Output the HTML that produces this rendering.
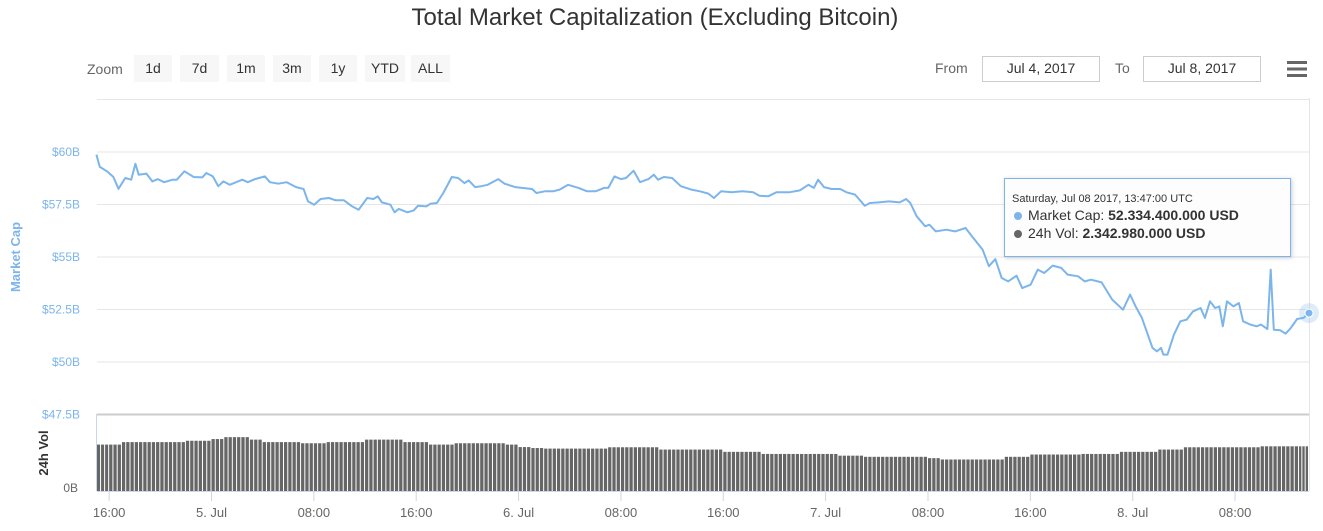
<!DOCTYPE html>
<html><head><meta charset="utf-8">
<style>
body{margin:0;background:#fff;font-family:"Liberation Sans",sans-serif;}
svg{display:block}
</style></head>
<body>
<svg id="chart" width="1323" height="531" xmlns="http://www.w3.org/2000/svg" font-family="Liberation Sans, sans-serif">
<text x="655" y="25" text-anchor="middle" font-size="24" fill="#333">Total Market Capitalization (Excluding Bitcoin)</text>
<g>
<text x="87" y="74" font-size="14" fill="#666">Zoom</text>
<g><rect x="134" y="55" width="38" height="27" fill="#f7f7f7"/><text x="153" y="73" font-size="14" fill="#333" text-anchor="middle">1d</text></g>
<g><rect x="180" y="55" width="39" height="27" fill="#f7f7f7"/><text x="199.5" y="73" font-size="14" fill="#333" text-anchor="middle">7d</text></g>
<g><rect x="227" y="55" width="38" height="27" fill="#f7f7f7"/><text x="246" y="73" font-size="14" fill="#333" text-anchor="middle">1m</text></g>
<g><rect x="273" y="55" width="38" height="27" fill="#f7f7f7"/><text x="292" y="73" font-size="14" fill="#333" text-anchor="middle">3m</text></g>
<g><rect x="319" y="55" width="38" height="27" fill="#f7f7f7"/><text x="338" y="73" font-size="14" fill="#333" text-anchor="middle">1y</text></g>
<g><rect x="365" y="55" width="40" height="27" fill="#f7f7f7"/><text x="385" y="73" font-size="14" fill="#333" text-anchor="middle">YTD</text></g>
<g><rect x="411" y="55" width="39" height="27" fill="#f7f7f7"/><text x="430.5" y="73" font-size="14" fill="#333" text-anchor="middle">ALL</text></g>
</g>
<text x="935" y="73" font-size="14" fill="#666">From</text>
<g><rect x="982.5" y="56.5" width="117" height="25" fill="#fff" stroke="#ccc"/><text x="1041" y="73" font-size="14" fill="#333" text-anchor="middle">Jul 4, 2017</text></g>
<text x="1115" y="73" font-size="14" fill="#666">To</text>
<g><rect x="1143.5" y="56.5" width="117" height="25" fill="#fff" stroke="#ccc"/><text x="1202" y="73" font-size="14" fill="#333" text-anchor="middle">Jul 8, 2017</text></g>
<g><rect x="1287" y="61" width="20" height="3" fill="#666"/><rect x="1287" y="67.5" width="20" height="3" fill="#666"/><rect x="1287" y="74" width="20" height="3" fill="#666"/></g>

<g id="grid"></g>
<text transform="translate(20,257) rotate(-90)" text-anchor="middle" font-size="13" font-weight="bold" fill="#7cb5ec">Market Cap</text>
<text transform="translate(48,453) rotate(-90)" text-anchor="middle" font-size="13" font-weight="bold" fill="#333">24h Vol</text>
<text x="78" y="492" text-anchor="end" font-size="12" fill="#666">0B</text>
<g id="vol"></g>
<g id="xaxis"></g>
<g id="line"></g>

<g>
<rect x="1004.5" y="178.5" width="286" height="78" fill="#fff" fill-opacity="0.95" stroke="#7cb5ec" style="filter:drop-shadow(1px 1px 2px rgba(0,0,0,0.2))"/>
<text x="1012" y="202" font-size="11" fill="#333">Saturday, Jul 08 2017, 13:47:00 UTC</text>
<circle cx="1018" cy="216" r="4" fill="#7cb5ec"/>
<text x="1028" y="220" font-size="14" fill="#333">Market Cap: <tspan font-weight="bold">52.334.400.000 USD</tspan></text>
<circle cx="1018" cy="234" r="4" fill="#666"/>
<text x="1028" y="238" font-size="14" fill="#333">24h Vol: <tspan font-weight="bold">2.342.980.000 USD</tspan></text>
</g>
</svg>
<script>
const hours=[15.0,15.27,15.83,16.33,16.73,17.26,17.72,18.05,18.31,18.91,19.37,19.8,20.3,20.96,21.29,21.88,22.61,23.27,23.6,24.1,24.53,24.93,25.42,26.41,26.84,27.4,28.17,28.56,29.22,29.88,30.61,31.2,31.54,32.03,32.53,33.19,33.69,34.35,35.0,35.5,36.17,36.66,37.0,37.32,37.98,38.31,38.64,39.31,39.8,40.13,40.79,41.12,41.62,42.12,42.78,43.27,43.77,44.1,44.6,45.09,45.59,46.41,46.91,47.74,49.06,49.39,50.05,50.71,51.21,51.87,52.69,53.36,54.02,54.68,55.01,55.5,56.0,56.4,56.99,57.49,58.15,58.58,58.9,59.35,60.0,60.68,61.5,62.17,62.84,63.27,63.83,64.66,65.5,66.33,66.82,67.5,68.15,69.15,69.98,70.65,71.08,71.41,71.87,72.47,73.14,73.63,74.3,75.06,75.46,76.13,76.96,77.79,78.29,78.62,79.12,79.78,80.11,80.61,81.44,82.11,82.94,83.44,84.27,84.76,85.26,85.76,86.26,86.92,87.36,88.02,88.58,89.08,89.75,90.41,90.91,91.74,92.24,92.74,93.57,94.4,95.24,95.8,96.23,96.72,97.55,97.89,98.22,98.39,98.72,99.22,99.72,100.22,100.71,101.31,101.64,102.04,102.44,102.77,103.04,103.37,103.87,104.3,104.63,105.2,105.69,106.03,106.53,106.79,107.03,107.53,107.96,108.36,108.85,109.35,109.78];
const marketCap=[59.87,59.29,59.08,58.81,58.25,58.76,58.68,59.44,58.92,58.97,58.60,58.71,58.56,58.68,58.68,59.08,58.81,58.79,59.0,58.84,58.37,58.60,58.44,58.68,58.56,58.71,58.84,58.56,58.49,58.56,58.33,58.24,57.65,57.49,57.76,57.81,57.70,57.70,57.41,57.25,57.81,57.76,57.89,57.60,57.49,57.13,57.29,57.13,57.22,57.44,57.41,57.54,57.57,58.05,58.81,58.76,58.52,58.65,58.33,58.37,58.44,58.71,58.49,58.33,58.24,58.05,58.13,58.13,58.21,58.44,58.29,58.13,58.13,58.29,58.29,58.84,58.71,58.76,59.11,58.56,58.71,58.92,58.68,58.81,58.76,58.37,58.21,58.13,58.02,57.81,58.13,58.08,58.13,58.08,57.92,57.89,58.08,58.08,58.17,58.44,58.29,58.68,58.33,58.24,58.24,58.08,57.97,57.44,57.57,57.60,57.65,57.60,57.76,57.57,56.94,56.46,56.54,56.22,56.30,56.22,56.38,55.98,55.35,54.56,54.90,54.0,53.84,54.11,53.52,53.68,54.40,54.24,54.59,54.48,54.16,54.08,53.84,53.92,53.79,52.97,52.49,53.21,52.65,52.10,50.67,50.51,50.67,50.35,50.35,51.30,51.94,52.02,52.41,52.57,52.10,52.89,52.57,52.65,51.70,52.89,52.65,52.81,51.94,51.78,51.70,51.78,51.57,54.40,51.54,51.51,51.35,51.62,52.05,52.10,52.33];
const volStartHour=15;
const volume=[2.43,2.43,2.56,2.56,2.56,2.56,2.56,2.63,2.63,2.72,2.82,2.82,2.69,2.56,2.56,2.56,2.50,2.50,2.56,2.56,2.56,2.69,2.69,2.69,2.56,2.56,2.43,2.43,2.50,2.50,2.50,2.50,2.43,2.30,2.25,2.22,2.22,2.22,2.22,2.22,2.29,2.29,2.29,2.29,2.17,2.17,2.17,2.17,2.17,2.05,2.05,2.05,1.94,1.94,1.94,1.94,1.94,1.94,1.85,1.85,1.79,1.79,1.79,1.79,1.79,1.72,1.65,1.65,1.65,1.65,1.65,1.79,1.79,1.91,1.91,1.91,1.91,1.94,1.94,1.94,2.05,2.05,2.05,2.17,2.17,2.29,2.29,2.29,2.29,2.29,2.29,2.34,2.34,2.34,2.34];
const yTicks=[47.5,50,52.5,55,57.5,60,62.5];
const yTickLabels=["$47.5B","$50B","$52.5B","$55B","$57.5B","$60B",""];
const xTickHours=[16,24,32,40,48,56,64,72,80,88,96,104];
const xTickLabels=["16:00","5. Jul","08:00","16:00","6. Jul","08:00","16:00","7. Jul","08:00","16:00","8. Jul","08:00"];

const NS="http://www.w3.org/2000/svg";
const X0=97,X1=1309,H0=15.05,H1=109.78;
const x=h=>X0+(h-H0)*(X1-X0)/(H1-H0);
const y=v=>152-(v-60)*21;
const VB=491,vy=v=>VB-v*19.1;
function mk(tag,attrs,parent){const e=document.createElementNS(NS,tag);for(const k in attrs)e.setAttribute(k,attrs[k]);parent.appendChild(e);return e;}

const grid=document.getElementById('grid');
yTicks.forEach((t,i)=>{
  const l=mk('line',{x1:X0,x2:X1,y1:y(t),y2:y(t),stroke:t===47.5?'#ccc':'#e6e6e6','stroke-width':t===47.5?2:1},grid);
  
  
  if(yTickLabels[i]){
    const tx=mk('text',{x:80,y:y(t)+4,'text-anchor':'end','font-size':12,fill:'#7cb5ec'},grid);
    tx.textContent=yTickLabels[i];
    
    
  }
});
const rb=mk('line',{x1:X1+0.5,x2:X1+0.5,y1:98,y2:VB,stroke:'#e6e6e6'},grid);


const lb=mk('line',{x1:X0-0.5,x2:X0-0.5,y1:414,y2:VB,stroke:'#ccd6eb'},grid);



const vol=document.getElementById('vol');
const step=(X1-X0)/(H1-H0);
volume.forEach((v,i)=>{
  const h=volStartHour+i;
  let xa=Math.max(X0,x(h)), xb=Math.min(X1,x(h+1));
  if(xb<=xa)return;
  for(let s=0;s<3;s++){
    const sx=xa+(xb-xa)*s/3, sw=(xb-xa)/3-1;
    const r=mk('rect',{x:sx,y:vy(v),width:Math.max(sw,0.5),height:VB-vy(v),fill:'#666'},vol);
    
    
  }
});

const xa=document.getElementById('xaxis');
const al=mk('line',{x1:X0,x2:X1,y1:VB+0.5,y2:VB+0.5,stroke:'#ccd6eb'},xa);


xTickHours.forEach((h,i)=>{
  const t=mk('line',{x1:x(h),x2:x(h),y1:VB,y2:VB+10,stroke:'#ccd6eb'},xa);
  
  
  const tx=mk('text',{x:x(h),y:517,'text-anchor':'middle','font-size':13,fill:'#666'},xa);
  tx.textContent=xTickLabels[i];
  
  
});

const lg=document.getElementById('line');
const d=hours.map((h,i)=>(i?'L':'M')+x(h).toFixed(1)+','+y(marketCap[i]).toFixed(1)).join(' ');
const p=mk('path',{d:d,fill:'none',stroke:'#7cb5ec','stroke-width':2,'stroke-linejoin':'round'},lg);


const li=hours.length-1;
const halo=mk('circle',{cx:x(hours[li]),cy:y(marketCap[li]),r:10,fill:'#7cb5ec','fill-opacity':0.25},lg);


const mkr=mk('circle',{cx:x(hours[li]),cy:y(marketCap[li]),r:4,fill:'#7cb5ec',stroke:'#fff','stroke-width':1},lg);


</script>
</body></html>
